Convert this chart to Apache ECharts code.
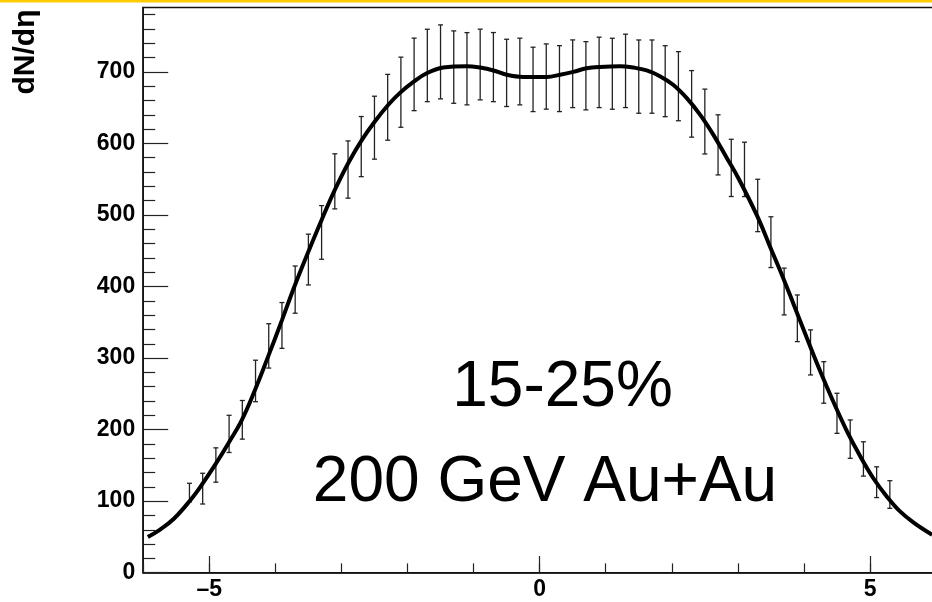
<!DOCTYPE html>
<html>
<head>
<meta charset="utf-8">
<script src="https://cdn.jsdelivr.net/npm/echarts@6/dist/echarts.min.js"></script>
<style>
html,body{margin:0;padding:0;background:#fff;}
#c{width:932px;height:602px;}
</style>
</head>
<body>
<div id="c"></div>
<script>
// Smooth curve (eta, dN/deta)
const curveEta = [-5.93,-5.75,-5.54,-5.29,-5.12,-4.91,-4.71,-4.51,-4.31,-4.11,-3.90,-3.72,-3.53,-3.30,-3.10,-2.90,-2.69,-2.50,-2.29,-2.11,-1.91,-1.71,-1.46,-1.10,-0.90,-0.70,-0.50,-0.25,0.11,0.31,0.51,0.71,0.91,1.22,1.42,1.62,1.82,2.02,2.23,2.43,2.63,2.83,3.01,3.29,3.49,3.69,3.84,4.04,4.24,4.44,4.65,4.85,5.05,5.25,5.45,5.66,5.94];
const curveVal = [50,60,75,101,122,151,181,213,255,302,353,398,442,493,535,572,605,630,654,671,686,698,706,708,706,702,696,693,693,696,700,705,707,708,706,702,694,682,663,640,612,580,551,499,455,411,376,329,283,240,198,163,132,107,86,70,53];

// Data points with error bars
const barEta = [-5.3,-5.1,-4.9,-4.7,-4.5,-4.3,-4.1,-3.9,-3.7,-3.5,-3.3,-3.1,-2.9,-2.7,-2.5,-2.3,-2.1,-1.9,-1.7,-1.5,-1.3,-1.1,-0.9,-0.7,-0.5,-0.3,-0.1,0.1,0.3,0.5,0.7,0.9,1.1,1.3,1.5,1.7,1.9,2.1,2.3,2.5,2.7,2.9,3.1,3.3,3.5,3.7,3.9,4.1,4.3,4.5,4.7,4.9,5.1,5.3];
const barVal = [112,117.5,150.5,194,213.7,268,317,345.6,395.7,437.7,475.6,547,563.5,595.6,622,650.5,671.6,696.5,709,714,706.7,704.4,710.3,706.7,698.6,700.5,689.5,693.5,690.6,697.4,694.6,699.3,697.4,701.4,693.4,693.4,687,680,655.3,630.6,598,565.8,563.7,513.3,462,393,355.6,307.9,265.9,222.8,186.7,159,126.5,109.3];
const barErr = [13,21.5,24,26,27,29,31,32,33,35.5,37.5,38.5,40,42,44,46,49,50.7,50.6,51.7,50.6,50.5,49.4,48.3,47,46.6,45,45.6,46.1,47.3,47.7,49.2,49.6,51.3,51.2,51.2,49.6,48.3,46.5,45.3,42,40,38,36.6,35.5,32.7,32.6,31.5,29,28,26.8,24,21.5,19.3];

// Ticks
const xMajorTicks = [-5, 0, 5];
const yMajorTicks = [0,100,200,300,400,500,600,700];
const yMinorTicks = [20,40,60,80,120,140,160,180,220,240,260,280,320,340,360,380,420,440,460,480,520,540,560,580,620,640,660,680,720,740,760,780];

// Texts
const yTitle = 'dN/d\u03b7';
const textLine1 = '15-25%';
const textLine2 = '200 GeV Au+Au';

const chart = echarts.init(document.getElementById('c'), null, {renderer:'canvas'});

const curveData = curveEta.map((e,i)=>[e, curveVal[i]]);
const barData = barEta.map((e,i)=>[e, barVal[i]-barErr[i], barVal[i]+barErr[i]]);

const tickStyle = {color:'#222', width:1.2};
const labelFont = {fontFamily:'Liberation Sans, Arial, sans-serif', fontWeight:'bold', fontSize:23, color:'#000'};

function renderBar(params, api){
  const x = api.value(0);
  const lo = api.coord([x, api.value(1)]);
  const hi = api.coord([x, api.value(2)]);
  const w = 2.5;
  const st = {stroke:'#222', lineWidth:1.3};
  return {type:'group', children:[
    {type:'line', shape:{x1:hi[0], y1:hi[1], x2:lo[0], y2:lo[1]}, style:st},
    {type:'line', shape:{x1:hi[0]-w, y1:hi[1], x2:hi[0]+w, y2:hi[1]}, style:st},
    {type:'line', shape:{x1:lo[0]-w, y1:lo[1], x2:lo[0]+w, y2:lo[1]}, style:st}
  ]};
}

chart.setOption({
  animation:false,
  backgroundColor:'#fff',
  grid:{left:143.2, right:-4.1, top:7.5, bottom:29.3, show:true, borderColor:'#111', borderWidth:1.5, outerBoundsMode:'none', containLabel:false},
  xAxis:[
    {type:'value', min:-6, max:6, gridIndex:0, position:'bottom',
     axisLine:{show:true, onZero:false, lineStyle:{color:'#111', width:1.5}},
     axisTick:{show:true, inside:true, length:16.7, customValues:xMajorTicks, lineStyle:tickStyle},
     axisLabel:Object.assign({show:true, margin:5, customValues:xMajorTicks,
       formatter:function(v){ return v<0 ? '\u2013'+Math.abs(v) : String(v); }}, labelFont),
     splitLine:{show:false}},
    {type:'value', min:-6, max:6, interval:1, gridIndex:0, position:'bottom',
     axisLine:{show:false, onZero:false},
     axisTick:{show:true, inside:true, length:9.3, lineStyle:tickStyle},
     axisLabel:{show:false}, splitLine:{show:false}}
  ],
  yAxis:[
    {type:'value', min:0, max:790, gridIndex:0, position:'left',
     axisLine:{show:true, onZero:false, lineStyle:{color:'#111', width:1.5}},
     axisTick:{show:true, inside:true, length:25, customValues:yMajorTicks, lineStyle:tickStyle},
     axisLabel:Object.assign({show:true, margin:8, customValues:yMajorTicks}, labelFont),
     splitLine:{show:false}},
    {type:'value', min:0, max:790, gridIndex:0, position:'left',
     axisLine:{show:false, onZero:false},
     axisTick:{show:true, inside:true, length:12, customValues:yMinorTicks, lineStyle:tickStyle},
     axisLabel:{show:false}, splitLine:{show:false}}
  ],
  graphic:[
    {type:'rect', left:0, top:0, shape:{x:0, y:0, width:932, height:2.5}, style:{fill:'#FFCC00'}, z:100},
    {type:'text', x:26, y:52, rotation:Math.PI/2,
     style:{text:yTitle, fontFamily:'Liberation Sans, Arial, sans-serif', fontWeight:'bold', fontSize:30, fill:'#000', align:'center', verticalAlign:'middle'}},
    {type:'text', x:562.5, y:388.5,
     style:{text:textLine1, fontFamily:'Liberation Sans, Arial, sans-serif', fontSize:64, fill:'#000', align:'center', verticalAlign:'middle'}},
    {type:'text', x:545, y:483.5,
     style:{text:textLine2, fontFamily:'Liberation Sans, Arial, sans-serif', fontSize:64, fill:'#000', align:'center', verticalAlign:'middle'}}
  ],
  series:[
    {type:'custom', xAxisIndex:0, yAxisIndex:0, renderItem:renderBar, data:barData, encode:{x:0, y:[1,2]}, z:2, silent:true},
    {type:'line', xAxisIndex:0, yAxisIndex:0, data:curveData, smooth:0.4, showSymbol:false, symbol:'none',
     lineStyle:{color:'#000', width:4}, z:3, silent:true}
  ]
});
</script>
</body>
</html>
